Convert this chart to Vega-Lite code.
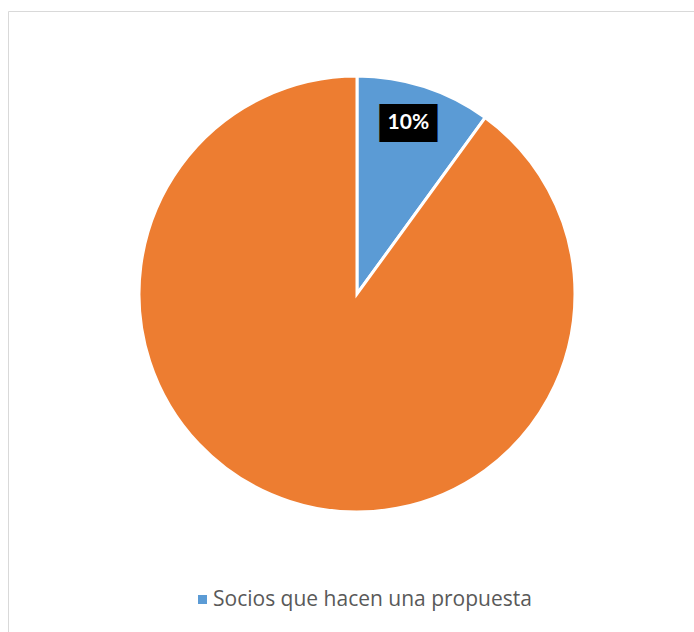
{
  "$schema": "https://vega.github.io/schema/vega-lite/v6.json",
  "width": 698,
  "height": 640,
  "autosize": {"type": "none"},
  "padding": {"left": 8, "top": 11, "right": 0, "bottom": 0},
  "background": "white",
  "config": {"view": {"stroke": "#d9d9d9", "strokeWidth": 1}},
  "data": {
    "values": [
      {"categoria": "Socios que hacen una propuesta", "valor": 10, "etiqueta": "10%"},
      {"categoria": "Socios que no hacen una propuesta", "valor": 90, "etiqueta": ""}
    ]
  },
  "encoding": {
    "theta": {"field": "valor", "type": "quantitative", "stack": true},
    "order": {"field": "valor", "type": "quantitative", "sort": "ascending"},
    "x": {"datum": 0, "type": "quantitative", "scale": {"domain": [-1, 1], "range": [0, 698]}, "axis": null},
    "y": {"datum": 0, "type": "quantitative", "scale": {"domain": [-1, 1], "range": [566, 0]}, "axis": null}
  },
  "layer": [
    {
      "mark": {"type": "arc", "outerRadius": 218, "stroke": "white", "strokeWidth": 3},
      "encoding": {
        "color": {
          "field": "categoria",
          "type": "nominal",
          "scale": {"domain": ["Socios que hacen una propuesta", "Socios que no hacen una propuesta"], "range": ["#5B9BD5", "#ED7D31"]},
          "legend": {
            "orient": "none",
            "legendX": 184,
            "legendY": 578,
            "direction": "horizontal",
            "title": null,
            "values": ["Socios que hacen una propuesta"],
            "symbolType": "square",
            "symbolSize": 81,
            "symbolStrokeWidth": 0,
            "labelFont": "Open Sans",
            "labelFontSize": 21,
            "labelColor": "#595959",
            "labelOffset": 0,
            "labelLimit": 0
          }
        }
      }
    },
    {
      "mark": {"type": "text", "radius": 179, "font": "DejaVu Sans Mono", "fontSize": 32, "color": "black", "dx": -13.45, "dy": 0.3, "align": "center", "baseline": "middle"},
      "encoding": {
        "text": {"condition": {"test": "datum.etiqueta !== ''", "value": "██"}, "value": ""}
      }
    },
    {
      "mark": {"type": "text", "radius": 179, "font": "DejaVu Sans Mono", "fontSize": 32, "color": "black", "dx": 5.45, "dy": 0.3, "align": "center", "baseline": "middle"},
      "encoding": {
        "text": {"condition": {"test": "datum.etiqueta !== ''", "value": "██"}, "value": ""}
      }
    },
    {
      "mark": {"type": "text", "radius": 179, "font": "Lato", "fontWeight": "bold", "fontSize": 21, "color": "white", "dx": -4, "dy": -0.5, "align": "center", "baseline": "middle"},
      "encoding": {
        "text": {"field": "etiqueta", "type": "nominal"}
      }
    }
  ]
}
